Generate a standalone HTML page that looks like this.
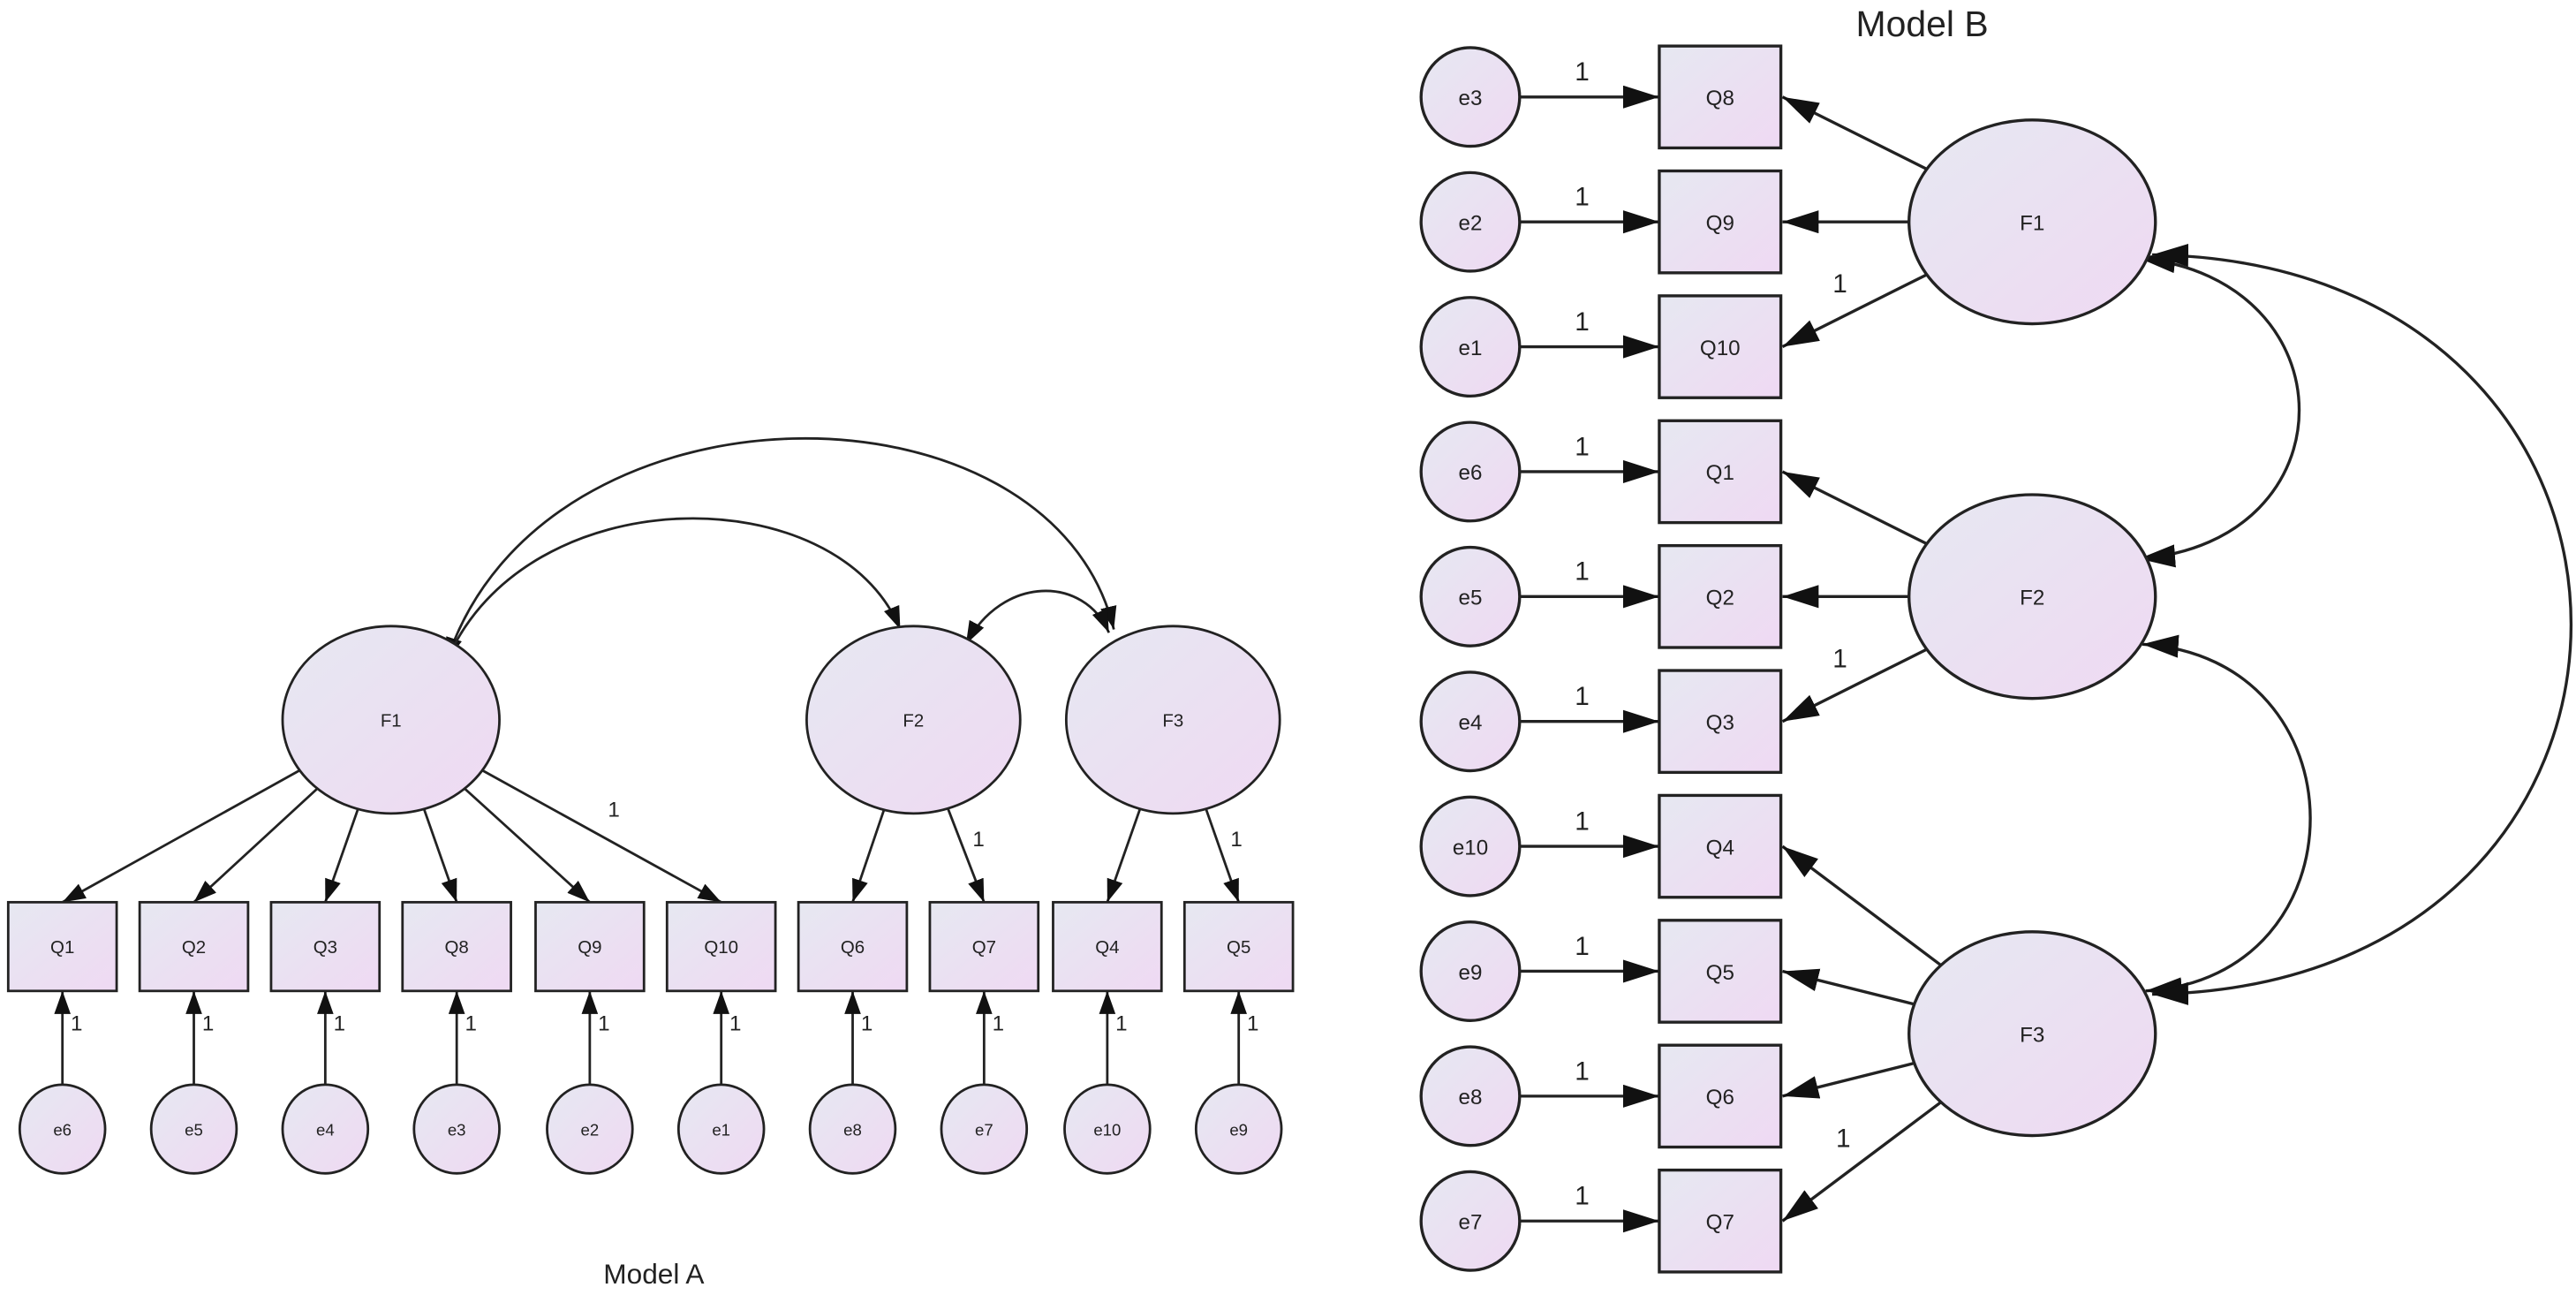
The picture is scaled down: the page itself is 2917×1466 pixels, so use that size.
<!DOCTYPE html>
<html><head><meta charset="utf-8"><style>
html,body{margin:0;padding:0;background:#fff;}
svg{display:block;}
text{font-family:"Liberation Sans",Arial,sans-serif;fill:#222;}
</style></head><body>
<svg width="2917" height="1466" viewBox="0 0 1568 788" xmlns="http://www.w3.org/2000/svg">
<defs>
<linearGradient id="g" x1="0" y1="0" x2="1" y2="1">
<stop offset="0" stop-color="#e6e8f1"/><stop offset="1" stop-color="#efd9f3"/>
</linearGradient>
<marker id="a" markerUnits="userSpaceOnUse" markerWidth="16" markerHeight="12" refX="14" refY="5" orient="auto-start-reverse">
<path d="M0,0 L14,5 L0,10 Z" fill="#111"/>
</marker>
<marker id="b" markerUnits="userSpaceOnUse" markerWidth="24" markerHeight="16" refX="22" refY="7" orient="auto-start-reverse">
<path d="M0,0 L22,7 L0,14 Z" fill="#111"/>
</marker>
</defs>
<rect width="1568" height="788" fill="#fff"/>

<!-- ========== MODEL A ========== -->
<g stroke="#222" stroke-width="1.5" fill="none" marker-end="url(#a)">
<path d="M272,402 C330,225 640,225 678,383" marker-start="url(#a)"/>
<path d="M272,402 C320,290 510,290 548,383"/>
<path d="M588,392 C610,350 660,350 675,385" marker-start="url(#a)"/>
<line x1="182" y1="469" x2="38" y2="549"/>
<line x1="193" y1="480" x2="118" y2="549"/>
<line x1="218" y1="492" x2="198" y2="549"/>
<line x1="258" y1="492" x2="278" y2="549"/>
<line x1="283" y1="480" x2="359" y2="549"/>
<line x1="294" y1="469" x2="439" y2="549"/>
<line x1="538" y1="493" x2="519" y2="549"/>
<line x1="577" y1="492" x2="599" y2="549"/>
<line x1="694" y1="492" x2="674" y2="549"/>
<line x1="734" y1="492" x2="754" y2="549"/>
<line x1="38" y1="660" x2="38" y2="603"/>
<line x1="118" y1="660" x2="118" y2="603"/>
<line x1="198" y1="660" x2="198" y2="603"/>
<line x1="278" y1="660" x2="278" y2="603"/>
<line x1="359" y1="660" x2="359" y2="603"/>
<line x1="439" y1="660" x2="439" y2="603"/>
<line x1="519" y1="660" x2="519" y2="603"/>
<line x1="599" y1="660" x2="599" y2="603"/>
<line x1="674" y1="660" x2="674" y2="603"/>
<line x1="754" y1="660" x2="754" y2="603"/>
</g>
<g stroke="#222" stroke-width="1.5" fill="url(#g)">
<ellipse cx="238" cy="438" rx="66" ry="57"/>
<ellipse cx="556" cy="438" rx="65" ry="57"/>
<ellipse cx="714" cy="438" rx="65" ry="57"/>
<rect x="5" y="549" width="66" height="54"/>
<rect x="85" y="549" width="66" height="54"/>
<rect x="165" y="549" width="66" height="54"/>
<rect x="245" y="549" width="66" height="54"/>
<rect x="326" y="549" width="66" height="54"/>
<rect x="406" y="549" width="66" height="54"/>
<rect x="486" y="549" width="66" height="54"/>
<rect x="566" y="549" width="66" height="54"/>
<rect x="641" y="549" width="66" height="54"/>
<rect x="721" y="549" width="66" height="54"/>
<ellipse cx="38" cy="687" rx="26" ry="27"/>
<ellipse cx="118" cy="687" rx="26" ry="27"/>
<ellipse cx="198" cy="687" rx="26" ry="27"/>
<ellipse cx="278" cy="687" rx="26" ry="27"/>
<ellipse cx="359" cy="687" rx="26" ry="27"/>
<ellipse cx="439" cy="687" rx="26" ry="27"/>
<ellipse cx="519" cy="687" rx="26" ry="27"/>
<ellipse cx="599" cy="687" rx="26" ry="27"/>
<ellipse cx="674" cy="687" rx="26" ry="27"/>
<ellipse cx="754" cy="687" rx="26" ry="27"/>
</g>
<g font-size="11" text-anchor="middle">
<text x="238" y="442">F1</text><text x="556" y="442">F2</text><text x="714" y="442">F3</text>
<text x="38" y="580">Q1</text><text x="118" y="580">Q2</text><text x="198" y="580">Q3</text>
<text x="278" y="580">Q8</text><text x="359" y="580">Q9</text><text x="439" y="580">Q10</text>
<text x="519" y="580">Q6</text><text x="599" y="580">Q7</text><text x="674" y="580">Q4</text><text x="754" y="580">Q5</text>
<text x="38" y="691" font-size="10">e6</text><text x="118" y="691" font-size="10">e5</text>
<text x="198" y="691" font-size="10">e4</text><text x="278" y="691" font-size="10">e3</text>
<text x="359" y="691" font-size="10">e2</text><text x="439" y="691" font-size="10">e1</text>
<text x="519" y="691" font-size="10">e8</text><text x="599" y="691" font-size="10">e7</text>
<text x="674" y="691" font-size="10">e10</text><text x="754" y="691" font-size="10">e9</text>
</g>
<g font-size="13">
<text x="43" y="627">1</text><text x="123" y="627">1</text><text x="203" y="627">1</text>
<text x="283" y="627">1</text><text x="364" y="627">1</text><text x="444" y="627">1</text>
<text x="524" y="627">1</text><text x="604" y="627">1</text><text x="679" y="627">1</text>
<text x="759" y="627">1</text>
<text x="370" y="497">1</text><text x="592" y="515">1</text><text x="749" y="515">1</text>
</g>
<text x="398" y="781" font-size="17" text-anchor="middle">Model A</text>

<!-- ========== MODEL B ========== -->
<text x="1170" y="22" font-size="22" text-anchor="middle">Model B</text>
<g stroke="#222" stroke-width="1.8" fill="none" marker-end="url(#b)" marker-start="url(#b)">
<path d="M1302,157 C1432,170 1432,330 1302,340"/>
<path d="M1304,392 C1440,400 1440,595 1306,603"/>
<path d="M1310,155 C1650,160 1650,600 1310,605"/>
</g>
<g stroke="#222" stroke-width="1.8" fill="none" marker-end="url(#b)">
<line x1="925" y1="59" x2="1010" y2="59"/>
<line x1="925" y1="135" x2="1010" y2="135"/>
<line x1="925" y1="211" x2="1010" y2="211"/>
<line x1="925" y1="287" x2="1010" y2="287"/>
<line x1="925" y1="363" x2="1010" y2="363"/>
<line x1="925" y1="439" x2="1010" y2="439"/>
<line x1="925" y1="515" x2="1010" y2="515"/>
<line x1="925" y1="591" x2="1010" y2="591"/>
<line x1="925" y1="667" x2="1010" y2="667"/>
<line x1="925" y1="743" x2="1010" y2="743"/>
<line x1="1173" y1="103" x2="1085" y2="59"/>
<line x1="1162" y1="135" x2="1085" y2="135"/>
<line x1="1173" y1="167" x2="1085" y2="211"/>
<line x1="1173" y1="331" x2="1085" y2="287"/>
<line x1="1162" y1="363" x2="1085" y2="363"/>
<line x1="1173" y1="395" x2="1085" y2="439"/>
<line x1="1181" y1="587" x2="1085" y2="515"/>
<line x1="1165" y1="611" x2="1085" y2="591"/>
<line x1="1165" y1="647" x2="1085" y2="667"/>
<line x1="1181" y1="671" x2="1085" y2="743"/>
</g>
<g stroke="#222" stroke-width="1.8" fill="url(#g)">
<ellipse cx="1237" cy="135" rx="75" ry="62"/>
<ellipse cx="1237" cy="363" rx="75" ry="62"/>
<ellipse cx="1237" cy="629" rx="75" ry="62"/>
<rect x="1010" y="28" width="74" height="62"/>
<rect x="1010" y="104" width="74" height="62"/>
<rect x="1010" y="180" width="74" height="62"/>
<rect x="1010" y="256" width="74" height="62"/>
<rect x="1010" y="332" width="74" height="62"/>
<rect x="1010" y="408" width="74" height="62"/>
<rect x="1010" y="484" width="74" height="62"/>
<rect x="1010" y="560" width="74" height="62"/>
<rect x="1010" y="636" width="74" height="62"/>
<rect x="1010" y="712" width="74" height="62"/>
<circle cx="895" cy="59" r="30"/>
<circle cx="895" cy="135" r="30"/>
<circle cx="895" cy="211" r="30"/>
<circle cx="895" cy="287" r="30"/>
<circle cx="895" cy="363" r="30"/>
<circle cx="895" cy="439" r="30"/>
<circle cx="895" cy="515" r="30"/>
<circle cx="895" cy="591" r="30"/>
<circle cx="895" cy="667" r="30"/>
<circle cx="895" cy="743" r="30"/>
</g>
<g font-size="13" text-anchor="middle">
<text x="1237" y="140">F1</text><text x="1237" y="368">F2</text><text x="1237" y="634">F3</text>
<text x="1047" y="64">Q8</text><text x="1047" y="140">Q9</text><text x="1047" y="216">Q10</text>
<text x="1047" y="292">Q1</text><text x="1047" y="368">Q2</text><text x="1047" y="444">Q3</text>
<text x="1047" y="520">Q4</text><text x="1047" y="596">Q5</text><text x="1047" y="672">Q6</text>
<text x="1047" y="748">Q7</text>
<text x="895" y="64">e3</text><text x="895" y="140">e2</text><text x="895" y="216">e1</text>
<text x="895" y="292">e6</text><text x="895" y="368">e5</text><text x="895" y="444">e4</text>
<text x="895" y="520">e10</text><text x="895" y="596">e9</text><text x="895" y="672">e8</text>
<text x="895" y="748">e7</text>
</g>
<g font-size="16" text-anchor="middle">
<text x="963" y="49">1</text><text x="963" y="125">1</text><text x="963" y="201">1</text>
<text x="963" y="277">1</text><text x="963" y="353">1</text><text x="963" y="429">1</text>
<text x="963" y="505">1</text><text x="963" y="581">1</text><text x="963" y="657">1</text>
<text x="963" y="733">1</text>
<text x="1120" y="178">1</text><text x="1120" y="406">1</text><text x="1122" y="698">1</text>
</g>
</svg>
</body></html>
